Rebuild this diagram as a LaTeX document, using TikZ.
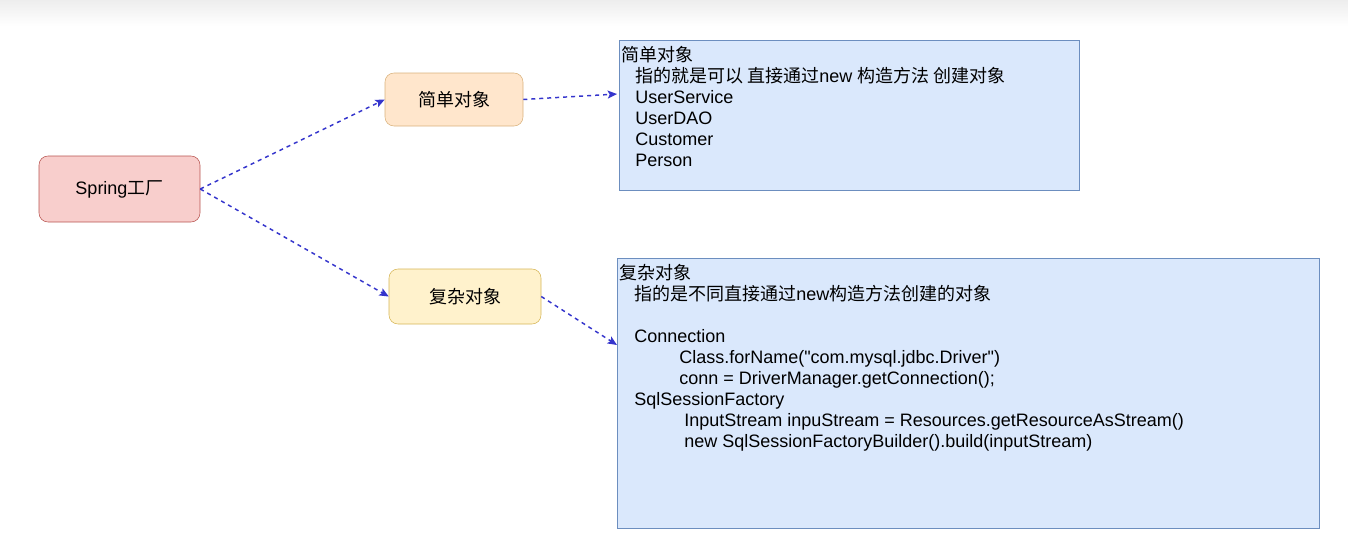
\documentclass[tikz,border=0pt]{standalone}
\usepackage{fontspec}
\setmainfont{Liberation Sans}
\newfontfamily\cjk{Noto Sans CJK SC}
\usetikzlibrary{arrows.meta}
\newcommand{\zh}[1]{{\cjk #1}}
\definecolor{springfill}{HTML}{F8CECC}
\definecolor{springline}{HTML}{B85450}
\definecolor{simplefill}{HTML}{FFE6CC}
\definecolor{simpleline}{HTML}{D9B27C}
\definecolor{complexfill}{HTML}{FFF2CC}
\definecolor{complexline}{HTML}{D6B656}
\definecolor{notefill}{HTML}{DAE8FC}
\definecolor{noteline}{HTML}{6C8EBF}
\definecolor{linkblue}{HTML}{3535CC}
\begin{document}
\begin{tikzpicture}[x=0.75pt,y=-0.75pt,
  every node/.style={font=\fontsize{13.5}{15.75}\selectfont},
  roundbox/.style={draw,rounded corners=6.75pt,inner sep=0pt},
  notebox/.style={draw=noteline,fill=notefill,inner sep=0pt},
  notetext/.style={align=left,anchor=base west,inner sep=0pt},
  link/.style={draw=linkblue,line width=1.1pt,dash pattern=on 3pt off 3pt,
    -{Stealth[inset=1.5pt,length=7pt,width=6pt]}}]
\useasboundingbox (0,0) rectangle (1348,544);
\shade [top color=black!7,bottom color=white,draw=none] (0,0) rectangle (1348,26);
\node [roundbox,draw=springline,fill=springfill,minimum width=120.75pt,minimum height=49.5pt] (spring) at (119.5,189) {Spring\zh{工厂}};
\node [roundbox,draw=simpleline,fill=simplefill,minimum width=103.5pt,minimum height=39.75pt] (simple) at (454,99.5) {\zh{简单对象}};
\node [roundbox,draw=complexline,fill=complexfill,minimum width=114pt,minimum height=41.25pt] (complex) at (465,296.5) {\zh{复杂对象}};
\node [notebox,minimum width=345pt,minimum height=112.5pt] (simplenote) at (849,115) {};
\node [notebox,minimum width=526.5pt,minimum height=202.5pt] (complexnote) at (968,393) {};
\node [notetext] (simpletext) at (621,166) {\zh{简单对象}\\
\hspace*{10.5pt}\zh{指的就是可以 直接通过}new \zh{构造方法 创建对象}\\
\hspace*{10.5pt}UserService\\
\hspace*{10.5pt}UserDAO\\
\hspace*{10.5pt}Customer\\
\hspace*{10.5pt}Person};
\node [notetext] (complextext) at (619,447) {\zh{复杂对象}\\
\hspace*{11.25pt}\zh{指的是不同直接通过}new\zh{构造方法创建的对象}\\
\mbox{}\\
\hspace*{11.25pt}Connection\\
\hspace*{45pt}Class.forName(\textquotedbl com.mysql.jdbc.Driver\textquotedbl)\\
\hspace*{45pt}conn = DriverManager.getConnection();\\
\hspace*{11.25pt}SqlSessionFactory\\
\hspace*{48.75pt}InputStream inpuStream = Resources.getResourceAsStream()\\
\hspace*{48.75pt}new SqlSessionFactoryBuilder().build(inputStream)};
\coordinate (simplein) at (617,94);
\coordinate (complexin) at (617,345);
\draw [link] (spring.east) -- (simple.west);
\draw [link] (spring.east) -- (complex.west);
\draw [link] (simple.east) -- (simplein);
\draw [link] (complex.east) -- (complexin);
\end{tikzpicture}
\end{document}
